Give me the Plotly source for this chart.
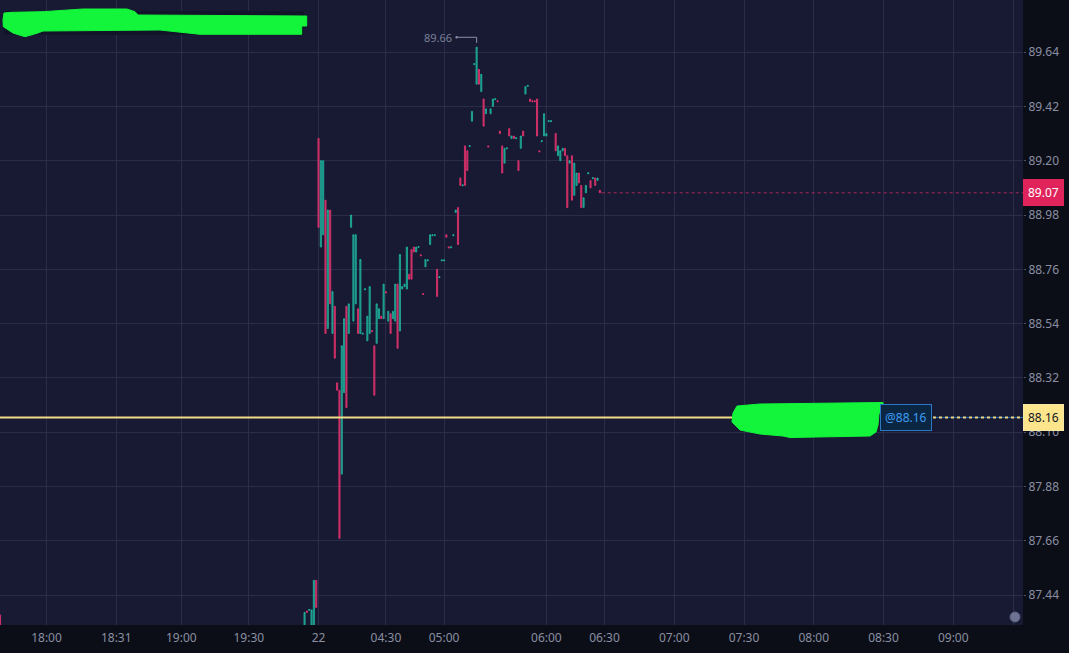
import plotly.graph_objects as go

# ---------------- data ----------------
bar_slot = [0, 131, 132, 133, 134, 135, 136, 137, 138, 139,
            140, 141, 142, 143, 144, 145, 146, 147, 148, 149,
            150, 151, 152, 153, 154, 155, 156, 157, 158, 159,
            160, 161, 162, 163, 164, 165, 166, 167, 168, 169,
            170, 171, 172, 173, 174, 175, 176, 177, 178, 179,
            180, 181, 182, 183, 184, 185, 186, 187, 188, 189,
            190, 191, 192, 193, 194, 195, 196, 197, 198, 199,
            200, 201, 202, 203, 204, 205, 206, 207, 208, 209,
            210, 211, 212, 213, 214, 215, 216, 217, 218, 219,
            220, 221, 222, 223, 224, 225, 226, 227, 228, 229,
            230, 231, 232, 233, 234, 235, 236, 237, 239, 240,
            241, 242, 243, 244, 245, 246, 247, 248, 249, 250,
            251, 252, 253, 254, 255, 256, 257, 258]

bar_open = [87.36, 87.30, 87.376, 87.378, 87.30, 87.30, 87.50, 89.29, 88.85, 88.90,
            89.04, 88.52, 89.00, 88.50, 88.61, 88.30, 88.27, 87.93, 88.26, 88.61,
            88.50, 88.93, 88.55, 88.62, 88.60, 88.50, 88.497, 88.677, 88.47, 88.50,
            88.512, 88.45, 88.46, 88.56, 88.57, 88.56, 88.669, 88.55, 88.58, 88.56,
            88.55, 88.70, 88.51, 88.68, 88.69, 88.68, 88.74, 88.84, 88.85, 88.83,
            88.848, 88.819, 88.662, 88.77, 88.794, 88.86, 88.896, 88.896, 88.76, 88.726,
            88.794, 88.794, 88.90, 88.851, 88.847, 88.896, 88.99, 89.01, 89.13, 89.098,
            89.26, 89.24, 89.257, 89.36, 89.589, 89.51, 89.57, 89.48, 89.45, 89.39,
            89.260, 89.39, 89.42, 89.447, 89.443, 89.32, 89.26, 89.19, 89.248, 89.33,
            89.29, 89.30, 89.289, 89.20, 89.25, 89.32, 89.47, 89.501, 89.45, 89.443,
            89.443, 89.45, 89.240, 89.277, 89.30, 89.30, 89.358, 89.358, 89.31, 89.22,
            89.20, 89.24, 89.25, 89.22, 89.19, 89.22, 89.06, 89.10, 89.15, 89.10,
            89.01, 89.07, 89.147, 89.12, 89.127, 89.13, 89.12, 89.08]

bar_high = [87.36, 87.37, 87.376, 87.382, 87.38, 87.50, 87.50, 89.29, 89.20, 89.20,
            89.04, 89.00, 89.00, 88.67, 88.61, 88.30, 88.27, 88.45, 88.56, 88.61,
            88.62, 88.98, 88.90, 88.90, 88.60, 88.80, 88.501, 88.681, 88.57, 88.69,
            88.512, 88.45, 88.62, 88.60, 88.57, 88.70, 88.669, 88.59, 88.58, 88.59,
            88.70, 88.70, 88.82, 88.69, 88.70, 88.85, 88.74, 88.84, 88.85, 88.85,
            88.852, 88.819, 88.662, 88.80, 88.798, 88.90, 88.900, 88.900, 88.76, 88.730,
            88.798, 88.798, 88.90, 88.851, 88.851, 88.900, 89.00, 89.01, 89.13, 89.102,
            89.26, 89.24, 89.261, 89.40, 89.593, 89.66, 89.57, 89.55, 89.45, 89.41,
            89.260, 89.41, 89.45, 89.451, 89.443, 89.32, 89.26, 89.25, 89.252, 89.33,
            89.30, 89.30, 89.293, 89.20, 89.30, 89.32, 89.50, 89.505, 89.45, 89.443,
            89.443, 89.45, 89.240, 89.281, 89.39, 89.31, 89.362, 89.362, 89.31, 89.26,
            89.24, 89.25, 89.25, 89.22, 89.20, 89.22, 89.19, 89.15, 89.15, 89.10,
            89.05, 89.10, 89.151, 89.12, 89.131, 89.13, 89.13, 89.08]

bar_low = [87.29, 87.30, 87.370, 87.378, 87.30, 87.30, 87.39, 88.93, 88.85, 88.90,
           88.50, 88.52, 88.62, 88.50, 88.40, 88.27, 87.67, 87.93, 88.26, 88.20,
           88.50, 88.93, 88.55, 88.62, 88.50, 88.50, 88.497, 88.677, 88.47, 88.50,
           88.508, 88.25, 88.46, 88.56, 88.56, 88.56, 88.665, 88.55, 88.50, 88.56,
           88.55, 88.44, 88.51, 88.68, 88.69, 88.68, 88.72, 88.72, 88.83, 88.83,
           88.848, 88.815, 88.658, 88.77, 88.794, 88.86, 88.896, 88.896, 88.65, 88.726,
           88.794, 88.794, 88.89, 88.847, 88.847, 88.896, 88.99, 88.86, 89.10, 89.098,
           89.10, 89.16, 89.257, 89.36, 89.589, 89.51, 89.51, 89.48, 89.34, 89.39,
           89.256, 89.39, 89.42, 89.447, 89.439, 89.31, 89.15, 89.19, 89.248, 89.30,
           89.29, 89.29, 89.289, 89.16, 89.25, 89.30, 89.47, 89.501, 89.44, 89.439,
           89.439, 89.30, 89.236, 89.277, 89.30, 89.30, 89.358, 89.358, 89.24, 89.22,
           89.20, 89.24, 89.22, 89.01, 89.19, 89.04, 89.06, 89.10, 89.11, 89.01,
           89.01, 89.07, 89.147, 89.09, 89.127, 89.10, 89.12, 89.07]

bar_close = [87.30, 87.37, 87.370, 87.382, 87.38, 87.50, 87.39, 88.93, 89.20, 89.20,
             88.50, 89.00, 88.62, 88.67, 88.40, 88.27, 87.67, 88.45, 88.56, 88.20,
             88.62, 88.98, 88.90, 88.90, 88.50, 88.80, 88.501, 88.681, 88.57, 88.69,
             88.508, 88.25, 88.62, 88.60, 88.56, 88.70, 88.665, 88.59, 88.50, 88.59,
             88.70, 88.44, 88.82, 88.69, 88.70, 88.85, 88.72, 88.72, 88.83, 88.85,
             88.852, 88.815, 88.658, 88.80, 88.798, 88.90, 88.900, 88.900, 88.65, 88.730,
             88.798, 88.798, 88.89, 88.847, 88.851, 88.900, 89.00, 88.86, 89.10, 89.102,
             89.10, 89.16, 89.261, 89.40, 89.593, 89.66, 89.51, 89.55, 89.34, 89.41,
             89.256, 89.41, 89.45, 89.451, 89.439, 89.31, 89.15, 89.25, 89.252, 89.30,
             89.30, 89.29, 89.293, 89.16, 89.30, 89.30, 89.50, 89.505, 89.44, 89.439,
             89.439, 89.30, 89.236, 89.281, 89.39, 89.31, 89.362, 89.362, 89.24, 89.26,
             89.24, 89.25, 89.22, 89.01, 89.20, 89.04, 89.19, 89.15, 89.11, 89.01,
             89.05, 89.10, 89.151, 89.09, 89.131, 89.10, 89.13, 89.07]

x_tick_slots = [20, 50, 78, 107, 137, 166, 191, 235, 260, 290, 320, 350, 380, 410, 436]
x_tick_labels = ["18:00", "18:31", "19:00", "19:30", "22", "04:30", "05:00", "06:00",
                 "06:30", "07:00", "07:30", "08:00", "08:30", "09:00", ""]
y_tick_values = [87.44, 87.66, 87.88, 88.10, 88.32, 88.54, 88.76, 88.98, 89.20, 89.42, 89.64]
y_tick_labels = ["87.44", "87.66", "87.88", "88.10", "88.32", "88.54", "88.76", "88.98",
                 "89.20", "89.42", "89.64"]
alert_price = 88.16
alert_text = "@88.16"

# ---------------- layout constants ----------------
W, H = 1069, 653
MR, MB = 46, 28
PW, PH = W - MR, H - MB
X_MIN, X_MAX = 0, 440
Y_MIN, Y_MAX = 87.319, 89.851

PLOT_BG = "#181a34"
AXIS_BG = "#0c0e17"
GRID = "#2a2d4a"
TXT = "#8a8ea3"
UP_LINE, UP_FILL = "#1fb5a0", "#1b8379"
DN_LINE, DN_FILL = "#e8336f", "#a62d5e"
GREEN = "#12f53a"


def pp(x, y):
    """pixel position -> paper coordinates of the plot area"""
    return x / PW, 1 - y / PH


def path_from(points):
    parts = []
    for i, (x, y) in enumerate(points):
        px, py = pp(x, y)
        parts.append(("M" if i == 0 else "L") + f"{px:.5f},{py:.5f}")
    return " ".join(parts) + " Z"


fig = go.Figure()
fig.add_trace(go.Candlestick(
    x=bar_slot, open=bar_open, high=bar_high, low=bar_low, close=bar_close,
    increasing=dict(line=dict(color=UP_LINE, width=0.8), fillcolor=UP_FILL),
    decreasing=dict(line=dict(color=DN_LINE, width=0.8), fillcolor=DN_FILL),
    whiskerwidth=0, hoverinfo="skip", showlegend=False,
))

shapes = []
# legend box (dark) behind the scribble
x0, y0 = pp(4, 11)
x1, y1 = pp(304, 35)
shapes.append(dict(type="rect", xref="paper", yref="paper", x0=x0, y0=y0, x1=x1, y1=y1,
                   fillcolor="#121429", line=dict(width=0), layer="above"))

# alert line
shapes.append(dict(type="line", xref="paper", yref="y", x0=0, x1=878 / PW,
                   y0=alert_price, y1=alert_price, line=dict(color="#f3de86", width=2), layer="above"))
shapes.append(dict(type="line", xref="paper", yref="y", x0=933 / PW, x1=1,
                   y0=alert_price, y1=alert_price, line=dict(color="#2c6fb0", width=1), layer="above"))
shapes.append(dict(type="line", xref="paper", yref="y", x0=933 / PW, x1=1,
                   y0=alert_price, y1=alert_price, line=dict(color="#e9d684", width=2, dash="dot"),
                   layer="above"))

# last price dotted line
last_close = bar_close[-1]
shapes.append(dict(type="line", xref="x", yref="y", x0=bar_slot[-1] + 0.8, x1=X_MAX,
                   y0=last_close, y1=last_close, line=dict(color="#a8265a", width=1, dash="dot"),
                   layer="above"))

# high marker
hi_idx = max(range(len(bar_high)), key=lambda i: bar_high[i])
hi_slot, hi_val = bar_slot[hi_idx], bar_high[hi_idx]
mark_y = hi_val + 0.04
shapes.append(dict(type="line", xref="x", yref="y", x0=hi_slot - 8.6, x1=hi_slot,
                   y0=mark_y, y1=mark_y, line=dict(color="#8a8ea3", width=1), layer="above"))
shapes.append(dict(type="line", xref="x", yref="y", x0=hi_slot, x1=hi_slot,
                   y0=mark_y, y1=hi_val + 0.017, line=dict(color="#8a8ea3", width=1), layer="above"))
shapes.append(dict(type="circle", xref="x", yref="y", x0=hi_slot - 9.1, x1=hi_slot - 8.1,
                   y0=mark_y - 0.005, y1=mark_y + 0.005, fillcolor="#8a8ea3",
                   line=dict(width=0), layer="above"))

# green scribbles
blob1 = [(4, 13), (12, 12.3), (43, 11.7), (83, 9), (127, 9), (135, 11.7), (138, 15),
         (306.7, 16), (306.7, 26), (301.7, 26), (301.7, 34.3), (200, 34.3), (160, 30),
         (43, 31), (37, 33.3), (25, 36.7), (13, 33), (3.3, 26.7), (3, 20)]
blob2 = [(737, 406), (760, 404), (883, 402.5), (883, 413), (879, 413), (878, 425),
         (876, 432), (870, 436), (790, 437.5), (783, 436), (760, 434), (740, 430),
         (732, 422), (733, 413)]
for b in (blob1, blob2):
    shapes.append(dict(type="path", xref="paper", yref="paper", path=path_from(b),
                       fillcolor=GREEN, line=dict(color=GREEN, width=1), layer="above"))

# settings icon
cx0, cy0 = pp(1010, 612)
cx1, cy1 = pp(1020, 622)
shapes.append(dict(type="circle", xref="paper", yref="paper", x0=cx0, y0=cy1, x1=cx1, y1=cy0,
                   fillcolor="#6f7393", line=dict(color="#5a5e7c", width=1), layer="above"))

annotations = [
    dict(xref="paper", yref="y", x=1, y=last_close, xanchor="left", yanchor="middle",
         text=f"{last_close:.2f}", showarrow=False, bgcolor="#e0245b", bordercolor="#e0245b",
         borderwidth=1, borderpad=4, font=dict(color="#ffffff", size=12, family="Noto Sans")),
    dict(xref="paper", yref="y", x=1, y=alert_price, xanchor="left", yanchor="middle",
         text=f"{alert_price:.2f}", showarrow=False, bgcolor="#fde58c", bordercolor="#f6e7a8",
         borderwidth=1, borderpad=4, font=dict(color="#131722", size=12, family="Noto Sans")),
    dict(xref="paper", yref="y", x=905.5 / PW, y=alert_price, xanchor="center", yanchor="middle",
         text=alert_text, showarrow=False, bgcolor="#0b2643", bordercolor="#2a78c4",
         borderwidth=1, borderpad=4, font=dict(color="#3d9ef3", size=12, family="Noto Sans")),
    dict(xref="x", yref="y", x=hi_slot - 9.6, y=mark_y, xanchor="right", yanchor="middle",
         text=f"{hi_val:.2f}", showarrow=False,
         font=dict(color="#7c8097", size=11, family="Noto Sans")),
]

fig.update_layout(
    width=W, height=H,
    margin=dict(l=0, r=MR, t=0, b=MB, pad=0),
    paper_bgcolor=AXIS_BG, plot_bgcolor=PLOT_BG,
    font=dict(family="Noto Sans", size=12, color=TXT),
    showlegend=False,
    shapes=shapes, annotations=annotations,
    xaxis=dict(range=[X_MIN, X_MAX], tickmode="array", tickvals=x_tick_slots,
               ticktext=x_tick_labels, showgrid=True, gridcolor=GRID, gridwidth=1,
               zeroline=False, showline=False, ticks="", rangeslider=dict(visible=False),
               ticklabelstandoff=4,
               tickfont=dict(color=TXT, size=12, family="Noto Sans"), fixedrange=True),
    yaxis=dict(range=[Y_MIN, Y_MAX], side="right", tickmode="array", tickvals=y_tick_values,
               ticktext=y_tick_labels, showgrid=True, gridcolor=GRID, gridwidth=1,
               zeroline=False, showline=False, ticks="outside", ticklen=2, tickcolor="#4a4e66",
               tickfont=dict(color=TXT, size=12, family="Noto Sans"), fixedrange=True),
)

fig.write_html(
    "out.html",
    config={"displayModeBar": False},
    post_script="document.body.style.margin='0px';document.body.style.overflow='hidden';"
                "document.body.style.background='" + AXIS_BG + "';",
)
